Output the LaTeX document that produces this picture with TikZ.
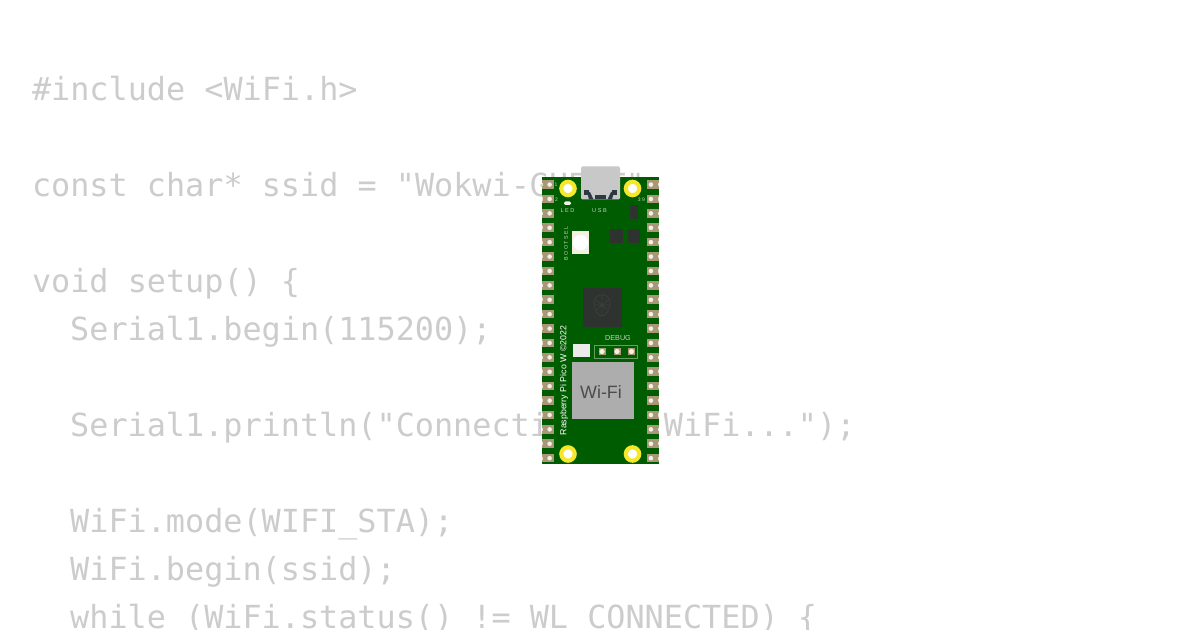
\documentclass[tikz,border=0pt]{standalone}
\usepackage{fontspec}
\setmainfont{Liberation Sans}
\newfontfamily\codefont{DejaVu Sans Mono}
\definecolor{codegray}{HTML}{CCCCCC}
\definecolor{pcb}{HTML}{005C00}
\definecolor{padtan}{HTML}{A89878}
\definecolor{holewhite}{HTML}{F4F1E4}
\definecolor{chipdark}{HTML}{2F332F}
\definecolor{usbgray}{HTML}{C8C8C8}
\definecolor{usbdark}{HTML}{2E3A42}
\definecolor{wifigray}{HTML}{ADADAD}
\definecolor{mountyellow}{HTML}{F5E72A}
\tikzset{
  x=0.75pt,y=-0.75pt,
  codeline/.style={anchor=base west,inner sep=0pt,outer sep=0pt,text=codegray,font=\codefont\fontsize{23.86pt}{24pt}\selectfont},
  silk/.style={inner sep=0pt,outer sep=0pt,text=white},
  dimsilk/.style={inner sep=0pt,outer sep=0pt,text=white!75!pcb},
  pad/.style={fill=padtan,draw=none},
  pinhole/.style={fill=holewhite,draw=none},
  mount/.style={draw=mountyellow,line width=3.1pt,fill=white},
  ic/.style={fill=chipdark,draw=none},
  usbpart/.style={fill=usbdark,draw=none},
}
\begin{document}
\begin{tikzpicture}
\useasboundingbox (0,0) rectangle (1200,630);
\fill[white] (0,0) rectangle (1200,630);
\begin{scope}
\clip (0,0) rectangle (1200,630);
\node[codeline] (l1) at (32,100.1) {\#include <WiFi.h>};
\node[codeline] (l2) at (32,196.1) {const char* ssid = "Wokwi-GUEST";};
\node[codeline] (l3) at (32,292.1) {void setup() \{};
\node[codeline] (l4) at (70.2,340.1) {Serial1.begin(115200);};
\node[codeline] (l5) at (70.2,436.1) {Serial1.println("Connecting to WiFi...");};
\node[codeline] (l6) at (70.2,532.1) {WiFi.mode(WIFI\_STA);};
\node[codeline] (l7) at (70.2,580.1) {WiFi.begin(ssid);};
\node[codeline] (l8) at (70.2,628.1) {while (WiFi.status() != WL\_CONNECTED) \{};
\end{scope}
% board
\fill[pcb] (541.5,177.5) rectangle (659,464);
% castellated pins
\foreach \i in {0,...,19}{
  \pgfmathsetmacro{\py}{184.6+14.4*\i}
  \fill[pad] (541.5,\py-4.3) rectangle (553.5,\py+4.3);
  \fill[pad] (646.5,\py-4.3) rectangle (659,\py+4.3);
  \fill[white!70!padtan] (541.5,\py-1.6) rectangle (543,\py+1.6);
  \fill[white!70!padtan] (657.5,\py-1.6) rectangle (659,\py+1.6);
  \fill[pinhole] (549.6,\py) circle (2.3);
  \fill[pinhole] (650.9,\py) circle (2.3);
}
% mounting holes
\draw[mount] (568,188.5) circle (6.7);
\draw[mount] (632.5,188.5) circle (6.7);
\draw[mount] (568,454) circle (6.7);
\draw[mount] (632.5,454) circle (6.7);
% USB
\fill[usbgray,rounded corners=1pt] (581,166.5) rectangle (620,199.5);
\fill[usbpart] (584,190) rectangle (589,195);
\fill[usbpart] (587,192) -- (590,192) -- (593.5,199.5) -- (589,199.5) -- cycle;
\fill[usbpart] (612,190) rectangle (617,195);
\fill[usbpart] (611,192) -- (614,192) -- (612,199.5) -- (607.5,199.5) -- cycle;
\fill[usbpart] (595,195.5) rectangle (606,199.5);
% LED
\fill[holewhite,rounded corners=1pt] (564,201.5) rectangle (571,205);
\node[dimsilk,font=\fontsize{4.2pt}{5pt}\selectfont] (led) at (567.5,210.5) {L E D};
\node[dimsilk,font=\fontsize{4.2pt}{5pt}\selectfont] (usb) at (599.5,210.5) {U S B};
\node[dimsilk,font=\fontsize{3.8pt}{5pt}\selectfont] (n1) at (556,184.5) {1};
\node[dimsilk,font=\fontsize{3.8pt}{5pt}\selectfont] (n2) at (556.5,199.5) {2};
\node[dimsilk,font=\fontsize{3.8pt}{5pt}\selectfont] (n39) at (641.5,200) {3 9};
% small ics
\fill[ic] (630,205) rectangle (638,219.5);
\fill[ic] (610,229.5) rectangle (623,243.5);
\fill[ic] (628,229.5) rectangle (640,243.5);
% BOOTSEL
\fill[holewhite] (572,231.5) rectangle (589,254);
\fill[white] (580.5,242.7) circle (7.6);
\node[dimsilk,rotate=90,font=\fontsize{4pt}{5pt}\selectfont] (bootsel) at (566,243.5) {B O O T S E L};
% RP2040
\fill[chipdark] (582.5,288) rectangle (622,327);
\begin{scope}[draw=white!6!chipdark,line width=0.6pt]
  \draw (602,295) .. controls (611,295) and (611,304) .. (609,309) .. controls (607,314) and (604,316) .. (602,316) .. controls (600,316) and (597,314) .. (595,309) .. controls (593,304) and (593,295) .. (602,295) -- cycle;
  \draw (596,300) -- (608,310) (608,300) -- (596,310) (594.5,305) -- (609.5,305) (602,295) -- (602,316);
\end{scope}
% DEBUG
\node[dimsilk,font=\fontsize{5.4pt}{6pt}\selectfont] (debug) at (618,338.5) {DEBUG};
\draw[white!40!pcb,line width=0.5pt,fill=pcb] (594.5,345) rectangle (637.5,358);
\foreach \hx in {602,617,631.5}{
  \fill[padtan] (\hx-3.5,351.5-3.5) rectangle (\hx+3.5,351.5+3.5);
  \fill[holewhite] (\hx,351.5) circle (2.6);
}
% white SMD
\fill[white!92!black] (572.5,344.3) rectangle (589.5,357);
% Wi-Fi module
\fill[wifigray] (571.5,362) rectangle (634.3,419.5);
\node[inner sep=0pt,text=black!70,font=\fontsize{13.4pt}{14pt}\selectfont] (wifi) at (601,392.5) {Wi-Fi};
% board title
\node[silk,rotate=90,font=\fontsize{6.6pt}{7pt}\selectfont] (title) at (564,380.5) {Raspberry Pi Pico W \textcopyright2022};
\end{tikzpicture}
\end{document}
